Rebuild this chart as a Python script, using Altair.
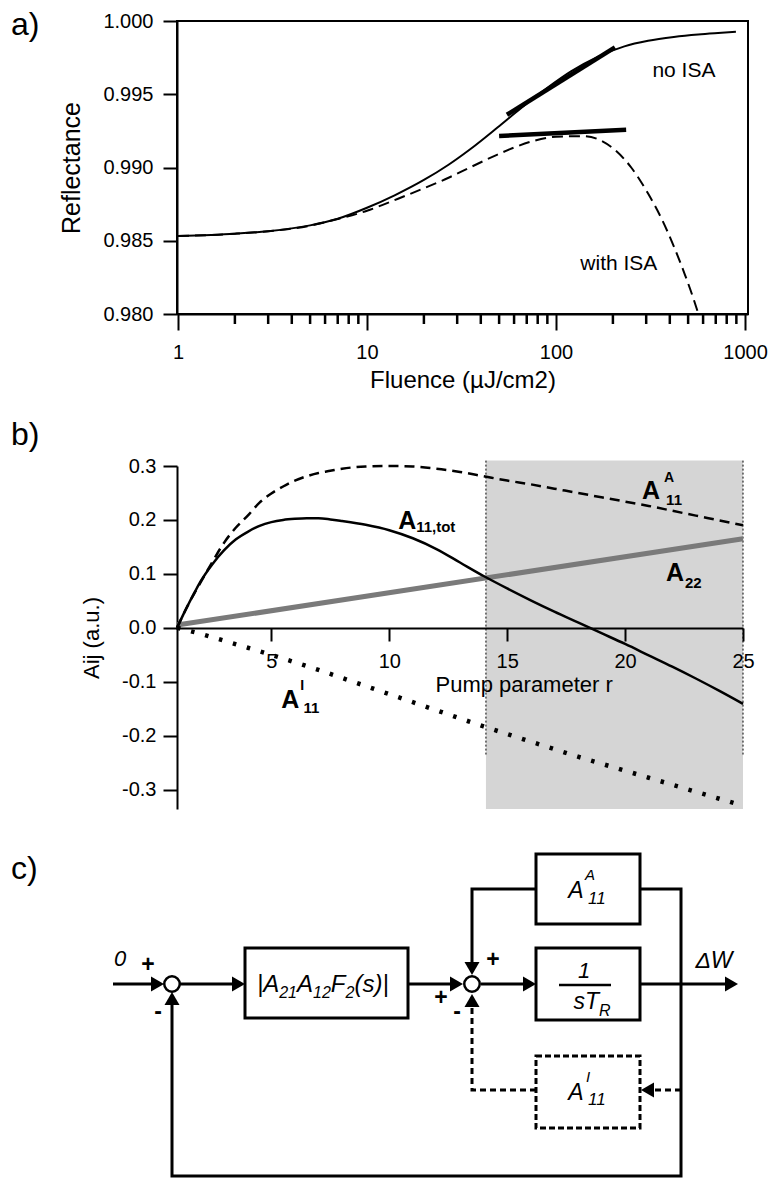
import altair as alt
import pandas as pd

SANS = "Liberation Sans, Arial, Helvetica, sans-serif"

# ---------------- a) reflectance vs. fluence ----------------
fluence_no_isa = [1, 2, 3, 5, 7, 10, 14, 20, 27, 35, 49, 65, 90, 120, 167, 230,
                  307, 420, 565, 720, 895]
refl_no_isa = [0.98532, 0.98548, 0.98565, 0.98605, 0.98650, 0.98725, 0.98810,
               0.98915, 0.99019, 0.99123, 0.99273, 0.99403, 0.99544, 0.99656,
               0.99757, 0.99827, 0.99865, 0.99891, 0.99908, 0.99918, 0.99926]

fluence_isa = [1, 2, 3, 5, 7, 10, 14.6, 20, 27, 35, 49, 60, 74, 100, 140, 170,
               205, 250, 307, 360, 420, 480, 530, 567]
refl_isa = [0.98532, 0.98548, 0.98565, 0.98603, 0.98648, 0.98705, 0.98787,
            0.98858, 0.98930, 0.99000, 0.99088, 0.99136, 0.99177, 0.99210,
            0.99214, 0.99189, 0.99120, 0.99000, 0.98822, 0.98656, 0.98462,
            0.98271, 0.98116, 0.98000]

# slope markers: start/end fluence and reflectance
tangent_f0 = [55, 50]
tangent_f1 = [205, 235]
tangent_r0 = [0.9936, 0.99215]
tangent_r1 = [0.9982, 0.99258]

a_label_text = ["no ISA", "with ISA"]
a_label_f = [475, 215]
a_label_r = [0.99659, 0.98341]

a_major_ticks = [1, 10, 100, 1000]
a_minor_ticks = [2, 3, 4, 5, 6, 7, 8, 9, 20, 30, 40, 50, 60, 70, 80, 90,
                 200, 300, 400, 500, 600, 700, 800, 900]
a_yticks = [0.980, 0.985, 0.990, 0.995, 1.000]
A_YMIN, A_YMAX, A_HEIGHT = 0.98, 1.0, 293

# ---------------- b) coefficients vs. pump parameter ----------------
r_grid = [1, 1.25, 1.5, 1.75, 2, 2.5, 3, 3.5, 4, 4.5, 5, 5.5, 6, 6.5, 7, 7.5,
          8, 9, 10, 11, 12, 13, 14, 15, 16, 17, 18, 19, 20, 21, 22, 23, 24, 25]
a11_tot = [0, 0.023, 0.045, 0.066, 0.086, 0.118, 0.144, 0.164, 0.178, 0.189,
           0.196, 0.200, 0.202, 0.203, 0.203, 0.201, 0.198, 0.191, 0.181,
           0.166, 0.146, 0.121, 0.096, 0.073, 0.051, 0.030, 0.010, -0.010,
           -0.030, -0.051, -0.072, -0.094, -0.117, -0.141]
a11_active = [0, 0.023, 0.045, 0.065, 0.084, 0.122, 0.158, 0.186, 0.208,
              0.232, 0.249, 0.262, 0.273, 0.281, 0.287, 0.291, 0.295, 0.299,
              0.300, 0.299, 0.295, 0.289, 0.281, 0.273, 0.266, 0.258, 0.250,
              0.242, 0.234, 0.226, 0.217, 0.208, 0.199, 0.190]
r_inactive = [1, 2, 3, 4, 5, 6, 7, 8, 9, 10, 11, 12, 13, 14, 15, 16, 17, 18,
              19, 20, 21, 22, 23, 24, 25]
a11_inactive = [0, -0.011, -0.024, -0.037, -0.050, -0.064, -0.078, -0.093,
                -0.108, -0.123, -0.138, -0.153, -0.168, -0.183, -0.197,
                -0.211, -0.225, -0.239, -0.252, -0.265, -0.278, -0.291,
                -0.304, -0.317, -0.330]
r_a22 = [1, 25]
a22 = [0.005, 0.165]

shade_r = [14.1, 25]
shade_v = [0.31, -0.336]
edge_v_bottom = -0.235

b_yticks = [-0.3, -0.2, -0.1, 0.0, 0.1, 0.2, 0.3]
b_xticks = [5, 10, 15, 20, 25]

# curve names: main letter, superscript, subscript (r, value anchors)
b_main_text = ["A", "A", "A", "A"]
b_main_r = [20.72, 10.38, 21.74, 5.42]
b_main_v = [0.239, 0.184, 0.087, -0.148]
b_small_text = ["A", "11", "11,tot", "22", "I", "11"]
b_small_r = [21.65, 21.74, 11.14, 22.54, 6.23, 6.36]
b_small_v = [0.271, 0.228, 0.178, 0.074, -0.115, -0.158]
b_small_size = [14, 15, 15, 15, 14, 15]

# ---------------- c) block diagram (layout units) ----------------
box_x0 = [244, 535, 535]
box_x1 = [407, 639, 639]
box_y0 = [947, 853, 947]
box_y1 = [1017, 923, 1019]
dbox_x0, dbox_x1, dbox_y0, dbox_y1 = [535], [639], [1055], [1127]

node_x = [171, 471]
node_y = [983, 983]

wire_id = ["in", "in", "g", "g", "s", "s", "i", "i", "out", "out",
           "top", "top", "top",
           "loop", "loop", "loop", "loop", "loop"]
wire_x = [112, 157, 179, 238, 407, 456, 480, 529, 639, 730,
          535, 471, 471,
          639, 680, 680, 171, 171]
wire_y = [983, 983, 983, 983, 983, 983, 983, 983, 983, 983,
          888, 888, 968,
          888, 888, 1175, 1175, 997]
dwire_id = ["to", "to", "from", "from", "from"]
dwire_x = [680, 646, 535, 471, 471]
dwire_y = [1089, 1089, 1089, 1089, 999]

arrow_x = [163, 244, 462, 535, 737, 471, 171, 640, 471]
arrow_y = [983, 983, 983, 983, 983, 974, 991, 1089, 993]
arrow_dir = ["right", "right", "right", "right", "right", "down", "up",
             "left", "up"]

frac_x = [558]
frac_x2 = [610]
frac_y = [984]

# transfer function |A21 A12 F2(s)| set piece by piece (main / subscript)
tf_text = ["|A", "21", "A", "12", "F", "2", " (s)|"]
tf_x = [256, 278.2, 296, 312, 329.8, 344.5, 353.4]
tf_y = [991, 997, 991, 997, 991, 997, 991]
tf_size = [24, 16, 24, 16, 24, 16, 24]

# -------------------------------------------------------------------------
xa = alt.X("F:Q",
           scale=alt.Scale(type="log", domain=[0.988, 1037], nice=False),
           axis=alt.Axis(values=a_major_ticks, format="d",
                         title="Fluence (µJ/cm2)", tickSize=16,
                         labelPadding=12, labelFlush=False, labelOverlap=False,
                         labelFontSize=20, titleFontSize=24, titlePadding=6,
                         tickWidth=2, domainWidth=2))
ya = alt.Y("R:Q",
           scale=alt.Scale(domain=[A_YMIN, A_YMAX], nice=False, zero=False),
           axis=alt.Axis(values=a_yticks, format=".3f", title="Reflectance",
                         tickSize=14, labelPadding=10, labelFontSize=20,
                         titleFontSize=25, titlePadding=18, tickWidth=2,
                         domainWidth=2))

df_no = pd.DataFrame({"F": fluence_no_isa, "R": refl_no_isa})
df_isa = pd.DataFrame({"F": fluence_isa, "R": refl_isa})
df_tan = pd.DataFrame({"F": tangent_f0, "F2": tangent_f1,
                       "R": tangent_r0, "R2": tangent_r1})
df_alab = pd.DataFrame({"F": a_label_f, "R": a_label_r, "t": a_label_text})
# intermediate log ticks: 10 px long, hanging below the axis line
minor_drop = (A_YMAX - A_YMIN) * 10 / A_HEIGHT
df_minor = pd.DataFrame({"F": a_minor_ticks,
                         "F2": a_minor_ticks,
                         "R": [A_YMIN] * len(a_minor_ticks),
                         "R2": [A_YMIN - minor_drop] * len(a_minor_ticks)})

a_solid = alt.Chart(df_no).mark_line(color="black", strokeWidth=2,
                                     interpolate="monotone").encode(x=xa, y=ya)
a_dash = alt.Chart(df_isa).mark_line(color="black", strokeWidth=2,
                                     strokeDash=[11, 6],
                                     interpolate="monotone").encode(x=xa, y=ya)
a_tan = alt.Chart(df_tan).mark_rule(color="black", strokeWidth=4.5).encode(
    x=xa, x2="F2:Q", y=ya, y2="R2:Q")
a_minor = alt.Chart(df_minor).mark_rule(color="black", strokeWidth=2.5).encode(
    x=xa, x2="F2:Q", y=ya, y2="R2:Q")
a_text = alt.Chart(df_alab).mark_text(fontSize=21, font=SANS, color="black").encode(
    x=xa, y=ya, text="t:N")
a_tag = alt.Chart(pd.DataFrame({"t": ["a)"]})).mark_text(
    align="left", baseline="middle", fontSize=32, font=SANS, color="black").encode(
    x=alt.value(-166), y=alt.value(4), text="t:N")

panel_a = alt.layer(a_solid, a_dash, a_tan, a_minor, a_text, a_tag).properties(
    width=571, height=A_HEIGHT,
    view=alt.ViewBackground(stroke="black", strokeWidth=2))

# -------------------------------------------------------------------------
xb = alt.X("r:Q", scale=alt.Scale(domain=[1, 25], nice=False, zero=False),
           axis=alt.Axis(values=b_xticks, title=None, offset=-181, tickSize=13,
                         labelPadding=10, labelFlush=False, labelFontSize=20,
                         tickWidth=2, domainWidth=2, zindex=1))
yb = alt.Y("v:Q", scale=alt.Scale(domain=[-0.336, 0.3], nice=False, zero=False),
           axis=alt.Axis(values=b_yticks,
                         labelExpr="replace(format(datum.value, '.1f'), '\u2212', '-')",
                         title="Aij (a.u.)", tickSize=14, labelPadding=7,
                         labelFontSize=20, titleFontSize=22, titlePadding=18,
                         tickWidth=2, domainWidth=2))

df_shade = pd.DataFrame({"r": [shade_r[0]], "r2": [shade_r[1]],
                         "v": [shade_v[0]], "v2": [shade_v[1]]})
df_edges = pd.DataFrame({"r": shade_r, "v": [shade_v[0]] * 2,
                         "v2": [edge_v_bottom] * 2})
df_tot = pd.DataFrame({"r": r_grid, "v": a11_tot})
df_act = pd.DataFrame({"r": r_grid, "v": a11_active})
df_inact = pd.DataFrame({"r": r_inactive, "v": a11_inactive})
df_a22 = pd.DataFrame({"r": r_a22, "v": a22})
df_bmain = pd.DataFrame({"r": b_main_r, "v": b_main_v, "t": b_main_text})
df_bsmall = pd.DataFrame({"r": b_small_r, "v": b_small_v, "t": b_small_text,
                          "s": b_small_size})

b_shade = alt.Chart(df_shade).mark_rect(color="#d5d5d5").encode(
    x=xb, x2="r2:Q", y=yb, y2="v2:Q")
b_edges = alt.Chart(df_edges).mark_rule(color="black", strokeWidth=1,
                                        strokeDash=[2, 2]).encode(x=xb, y=yb, y2="v2:Q")
b_a22 = alt.Chart(df_a22).mark_line(color="#7a7a7a", strokeWidth=5).encode(x=xb, y=yb)
b_act = alt.Chart(df_act).mark_line(color="black", strokeWidth=2.5,
                                    strokeDash=[10, 6],
                                    interpolate="monotone").encode(x=xb, y=yb)
b_inact = alt.Chart(df_inact).mark_line(color="black", strokeWidth=4.5,
                                        strokeDash=[3.5, 11]).encode(x=xb, y=yb)
b_tot = alt.Chart(df_tot).mark_line(color="black", strokeWidth=2.5,
                                    interpolate="monotone").encode(x=xb, y=yb)
b_main = alt.Chart(df_bmain).mark_text(
    align="left", baseline="alphabetic", fontSize=25, fontWeight="bold",
    font=SANS, color="black").encode(x=xb, y=yb, text="t:N")
b_small = alt.Chart(df_bsmall).mark_text(
    align="left", baseline="alphabetic", fontWeight="bold", font=SANS,
    color="black").encode(x=xb, y=yb, text="t:N",
                          size=alt.Size("s:Q", scale=None, legend=None))
b_title = alt.Chart(pd.DataFrame({"r": [15.72], "v": [-0.106],
                                  "t": ["Pump parameter r"]})).mark_text(
    fontSize=22, font=SANS, color="black").encode(x=xb, y=yb, text="t:N")
b_tag = alt.Chart(pd.DataFrame({"t": ["b)"]})).mark_text(
    align="left", baseline="middle", fontSize=32, font=SANS, color="black").encode(
    x=alt.value(-166), y=alt.value(-31), text="t:N")

panel_b = alt.layer(b_shade, b_edges, b_a22, b_act, b_inact, b_tot, b_main,
                    b_small, b_title, b_tag).properties(width=566, height=343)

# -------------------------------------------------------------------------
xc = alt.X("x:Q", scale=alt.Scale(domain=[176, 747], nice=False, zero=False), axis=None)
yc = alt.Y("y:Q", scale=alt.Scale(domain=[960, 1176], nice=False, zero=False,
                                  reverse=True), axis=None)

ARROW_SIZE = 225
ARROW_HALF = 0.433 * ARROW_SIZE ** 0.5
step = {"right": (1, 0), "left": (-1, 0), "down": (0, 1), "up": (0, -1)}
shape = {"right": "triangle-right", "left": "triangle-left",
         "down": "triangle-down", "up": "triangle-up"}
df_arrow = pd.DataFrame({
    "x": [ax - step[d][0] * ARROW_HALF for ax, d in zip(arrow_x, arrow_dir)],
    "y": [ay - step[d][1] * ARROW_HALF for ay, d in zip(arrow_y, arrow_dir)],
    "shape": [shape[d] for d in arrow_dir],
})

df_box = pd.DataFrame({"x": box_x0, "x2": box_x1, "y": box_y0, "y2": box_y1})
df_dbox = pd.DataFrame({"x": dbox_x0, "x2": dbox_x1, "y": dbox_y0, "y2": dbox_y1})
df_node = pd.DataFrame({"x": node_x, "y": node_y})
df_wire = pd.DataFrame({"id": wire_id, "x": wire_x, "y": wire_y,
                        "k": list(range(len(wire_id)))})
df_dwire = pd.DataFrame({"id": dwire_id, "x": dwire_x, "y": dwire_y,
                         "k": list(range(len(dwire_id)))})
df_frac = pd.DataFrame({"x": frac_x, "x2": frac_x2, "y": frac_y})

c_wire = alt.Chart(df_wire).mark_line(color="black", strokeWidth=3,
                                      strokeJoin="miter").encode(
    x=xc, y=yc, detail="id:N", order="k:Q")
c_dwire = alt.Chart(df_dwire).mark_line(color="black", strokeWidth=3,
                                        strokeDash=[6, 4], strokeJoin="miter").encode(
    x=xc, y=yc, detail="id:N", order="k:Q")
c_box = alt.Chart(df_box).mark_rect(fill="white", stroke="black",
                                    strokeWidth=3).encode(x=xc, x2="x2:Q", y=yc, y2="y2:Q")
c_dbox = alt.Chart(df_dbox).mark_rect(fill="white", stroke="black", strokeWidth=3,
                                      strokeDash=[6, 3]).encode(
    x=xc, x2="x2:Q", y=yc, y2="y2:Q")
c_node = alt.Chart(df_node).mark_point(shape="circle", filled=True, fill="white",
                                       stroke="black", strokeWidth=2.5, size=240,
                                       opacity=1).encode(x=xc, y=yc)
c_arrow = alt.Chart(df_arrow).mark_point(filled=True, color="black", size=ARROW_SIZE,
                                         opacity=1).encode(
    x=xc, y=yc, shape=alt.Shape("shape:N", scale=None, legend=None))
c_frac = alt.Chart(df_frac).mark_rule(color="black", strokeWidth=2.5).encode(
    x=xc, x2="x2:Q", y=yc)


def text_layer(texts, xs, ys, sizes, **mark):
    df = pd.DataFrame({"t": texts, "x": xs, "y": ys, "s": sizes})
    return alt.Chart(df).mark_text(font=SANS, color="black", **mark).encode(
        x=xc, y=yc, text="t:N", size=alt.Size("s:Q", scale=None, legend=None))


c_tf = text_layer(tf_text, tf_x, tf_y, tf_size, fontStyle="italic",
                  align="left", baseline="alphabetic")
c_it_mid = text_layer(["0", "ΔW"], [119, 713], [958, 960], [22, 23],
                      fontStyle="italic", align="center", baseline="middle")
c_signs = text_layer(["+", "-", "+", "+", "-"], [147, 157, 440, 492, 456],
                     [964, 1011, 997, 959, 1011], [23, 23, 23, 23, 23],
                     fontWeight="bold", align="center", baseline="middle")
c_it_main = text_layer(["A", "1", "A"], [575, 583, 575], [897, 977, 1099],
                       [23, 22, 23], fontStyle="italic", align="center",
                       baseline="alphabetic")
c_it_small = text_layer(["A", "11", "R", "I", "11"], [584, 587, 598, 585, 587],
                        [879, 903, 1015, 1081, 1104], [15, 17, 16, 15, 17],
                        fontStyle="italic", align="left", baseline="alphabetic")
c_it_right = text_layer(["sT"], [598], [1008], [23], fontStyle="italic",
                        align="right", baseline="alphabetic")
c_tag = text_layer(["c)"], [10], [868], [32], align="left", baseline="middle")

panel_c = alt.layer(c_wire, c_dwire, c_box, c_dbox, c_node, c_arrow, c_frac,
                    c_tf, c_it_mid, c_signs, c_it_main, c_it_small, c_it_right,
                    c_tag).properties(width=571, height=216)

chart = alt.vconcat(panel_a, panel_b, panel_c, spacing=152, bounds="flush").properties(
    padding={"left": 10, "top": 8, "right": 0, "bottom": 0}
).configure_view(stroke=None).configure_axis(
    grid=False, domainColor="black", tickColor="black", labelColor="black",
    titleColor="black", labelFont=SANS, titleFont=SANS, titleFontWeight="normal")

chart.save("out.html", embed_options={"renderer": "svg", "actions": False})
